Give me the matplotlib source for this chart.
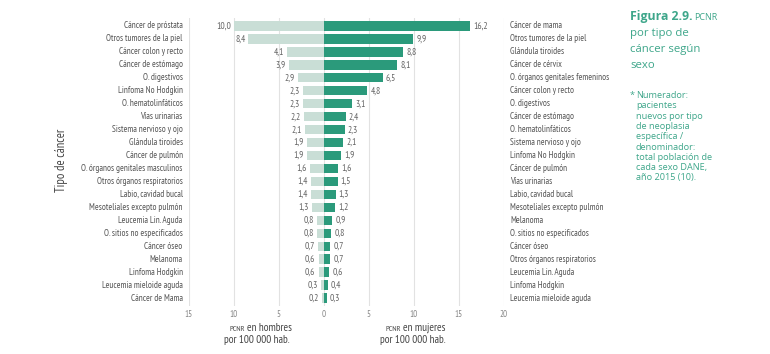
import matplotlib
matplotlib.use("Agg")
import matplotlib.pyplot as plt
import numpy as np

men_labels = ["Cáncer de próstata", "Otros tumores de la piel", "Cáncer colon y recto",
              "Cáncer de estómago", "O. digestivos", "Linfoma No Hodgkin",
              "O. hematolinfáticos", "Vías urinarias", "Sistema nervioso y ojo",
              "Glándula tiroides", "Cáncer de pulmón", "O. órganos genitales masculinos",
              "Otros órganos respiratorios", "Labio, cavidad bucal",
              "Mesoteliales excepto pulmón", "Leucemia Lin. Aguda",
              "O. sitios no especificados", "Cáncer óseo", "Melanoma",
              "Linfoma Hodgkin", "Leucemia mieloide aguda", "Cáncer de Mama"]
men_values = [10.0, 8.4, 4.1, 3.9, 2.9, 2.3, 2.3, 2.2, 2.1, 1.9, 1.9, 1.6,
              1.4, 1.4, 1.3, 0.8, 0.8, 0.7, 0.6, 0.6, 0.3, 0.2]

women_labels = ["Cáncer de mama", "Otros tumores de la piel", "Glándula tiroides",
                "Cáncer de cérvix", "O. órganos genitales femeninos",
                "Cáncer colon y recto", "O. digestivos", "Cáncer de estómago",
                "O. hematolinfáticos", "Sistema nervioso y ojo", "Linfoma No Hodgkin",
                "Cáncer de pulmón", "Vías urinarias", "Labio, cavidad bucal",
                "Mesoteliales excepto pulmón", "Melanoma", "O. sitios no especificados",
                "Cáncer óseo", "Otros órganos respiratorios", "Leucemia Lin. Aguda",
                "Linfoma Hodgkin", "Leucemia mieloide aguda"]
women_values = [16.2, 9.9, 8.8, 8.1, 6.5, 4.8, 3.1, 2.4, 2.3, 2.1, 1.9, 1.6,
                1.5, 1.3, 1.2, 0.9, 0.8, 0.7, 0.7, 0.6, 0.4, 0.3]

x_ticks = [-15, -10, -5, 0, 5, 10, 15, 20]
x_tick_labels = ["15", "10", "5", "0", "5", "10", "15", "20"]

NARROW = ["PT Sans Narrow", "IBM Plex Sans Condensed", "DejaVu Sans"]
TITLE_FONT = ["Open Sans", "DejaVu Sans"]
MEN_C = "#c9ded6"
WOMEN_C = "#2b9a7b"
TEXT_C = "#555555"
TEAL = "#3ea68a"

W, H = 770, 354
fig = plt.figure(figsize=(W / 100, H / 100), dpi=100)
fig.patch.set_facecolor("white")

def fx(x):
    return x / W

def fy(y):
    return 1 - y / H

ax_l, ax_r, ax_t, ax_b = 189, 504, 18.2, 305.8
ax = fig.add_axes([fx(ax_l), fy(ax_b), fx(ax_r - ax_l), (ax_b - ax_t) / H])

n = len(men_values)
ypos = np.arange(n)
ax.barh(ypos, [-v for v in men_values], height=0.72, color=MEN_C, zorder=2)
ax.barh(ypos, women_values, height=0.72, color=WOMEN_C, zorder=2)

for t in x_ticks:
    ax.axvline(t, color="#e2e2e2", lw=0.8, zorder=1)

ax.set_xlim(-15, 20)
ax.set_ylim(n - 0.4, -0.6)
ax.set_xticks(x_ticks)
ax.set_xticklabels(x_tick_labels, fontsize=6.5, color="#888888", family=NARROW)
ax.tick_params(axis="x", length=0, pad=3)
ax.set_yticks([])
for s in ax.spines.values():
    s.set_visible(False)

def fmt(v):
    return f"{v:.1f}".replace(".", ",")

for i, (mv, wv) in enumerate(zip(men_values, women_values)):
    ax.text(-mv - 0.35, i, fmt(mv), ha="right", va="center", fontsize=6.8,
            color="#666666", family=NARROW)
    ax.text(wv + 0.35, i, fmt(wv), ha="left", va="center", fontsize=6.8,
            color="#666666", family=NARROW)

for i, lab in enumerate(men_labels):
    ax.annotate(lab, xy=(0, i), xycoords=("axes fraction", "data"),
                xytext=(-4.5, 0), textcoords="offset points", ha="right", va="center",
                fontsize=6.6, color=TEXT_C, family=NARROW)
for i, lab in enumerate(women_labels):
    ax.annotate(lab, xy=(1, i), xycoords=("axes fraction", "data"),
                xytext=(4.5, 0), textcoords="offset points", ha="left", va="center",
                fontsize=6.6, color=TEXT_C, family=NARROW)

fig.text(fx(62), fy(160), "Tipo de cáncer", rotation=90, ha="center", va="center",
         fontsize=9, color="#444444", family=NARROW)

# bottom axis captions
def caption(xc, y, rest):
    fig.text(fx(xc - 12), fy(y), "PCNR", ha="right", va="baseline", fontsize=5.8,
             color="#444444", family=NARROW)
    fig.text(fx(xc - 10), fy(y), rest, ha="left", va="baseline", fontsize=8,
             color="#444444", family=NARROW)

caption(257, 331, "en hombres")
fig.text(fx(257), fy(343), "por 100 000 hab.", ha="center", va="baseline",
         fontsize=8, color="#444444", family=NARROW)
caption(413, 331, "en mujeres")
fig.text(fx(413), fy(343), "por 100 000 hab.", ha="center", va="baseline",
         fontsize=8, color="#444444", family=NARROW)

# title block
fig.text(fx(630), fy(20), "Figura 2.9.", ha="left", va="baseline", fontsize=8.8,
         fontweight="bold", color=TEAL, family=TITLE_FONT)
fig.text(fx(694), fy(20), "PCNR", ha="left", va="baseline", fontsize=6.5,
         color=TEAL, family=TITLE_FONT)
for k, line in enumerate(["por tipo de", "cáncer según", "sexo"]):
    fig.text(fx(630), fy(36 + 16 * k), line, ha="left", va="baseline", fontsize=8.2,
             color=TEAL, family=TITLE_FONT)

note = ["Numerador:", "pacientes", "nuevos por tipo", "de neoplasia", "específica /",
        "denominador:", "total población de", "cada sexo DANE,", "año 2015 (10)."]
fig.text(fx(630), fy(98), "*", ha="left", va="baseline", fontsize=6.6,
         color=TEAL, family=TITLE_FONT)
for k, line in enumerate(note):
    fig.text(fx(636), fy(98 + 10.3 * k), line, ha="left", va="baseline",
             fontsize=6.6, color=TEAL, family=TITLE_FONT)

fig.savefig("out.png", dpi=100, facecolor="white")
